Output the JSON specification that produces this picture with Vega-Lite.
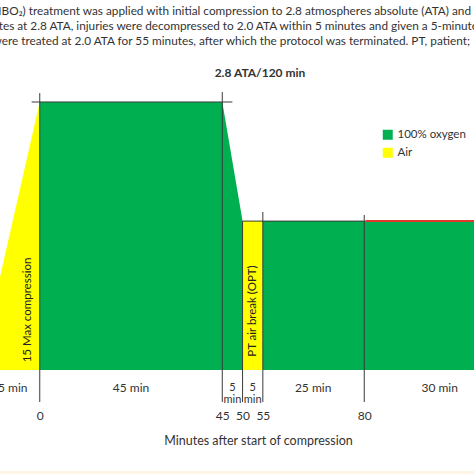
{
  "$schema": "https://vega.github.io/schema/vega-lite/v6.json",
  "autosize": "none",
  "padding": 0,
  "width": 474,
  "height": 474,
  "background": "white",
  "config": {
    "view": {"stroke": null},
    "font": "Lato",
    "text": {"font": "Lato", "color": "#333333"}
  },
  "datasets": {
    "profile": [
      {"seg": "compress", "gas": "Air", "min": -15, "ata": 1.0},
      {"seg": "compress", "gas": "Air", "min": 0, "ata": 2.8},
      {"seg": "o2a", "gas": "100% oxygen", "min": 0, "ata": 2.8},
      {"seg": "o2a", "gas": "100% oxygen", "min": 45, "ata": 2.8},
      {"seg": "o2a", "gas": "100% oxygen", "min": 50, "ata": 2.0},
      {"seg": "airbreak", "gas": "Air", "min": 50, "ata": 2.0},
      {"seg": "airbreak", "gas": "Air", "min": 55, "ata": 2.0},
      {"seg": "o2b", "gas": "100% oxygen", "min": 55, "ata": 2.0},
      {"seg": "o2b", "gas": "100% oxygen", "min": 110, "ata": 2.0}
    ],
    "dividers": [
      {"min": 0, "min2": 0, "ata": 2.86, "ata2": 0.785},
      {"min": 45, "min2": 45, "ata": 2.867, "ata2": 0.785},
      {"min": 50, "min2": 50, "ata": 2.0, "ata2": 0.785},
      {"min": 55, "min2": 55, "ata": 2.061, "ata2": 0.785},
      {"min": 80, "min2": 80, "ata": 2.041, "ata2": 0.785},
      {"min": -2, "min2": 47.5, "ata": 2.8, "ata2": 2.8},
      {"min": 50, "min2": 80, "ata": 2.0, "ata2": 2.0}
    ],
    "terminal": [
      {"min": 80.3, "min2": 110, "ata": 2.0}
    ],
    "durations": [
      {"min": -7.5, "label": "15 min"},
      {"min": 22.5, "label": "45 min"},
      {"min": 67.4, "label": "25 min"},
      {"min": 98.6, "label": "30 min"}
    ],
    "short": [
      {"min": 47.5, "label": "5\nmin"},
      {"min": 52.5, "label": "5\nmin"}
    ],
    "phases": [
      {"min": -2.9, "ata": 1.403, "label": "15 Max compression"},
      {"min": 52.5, "ata": 1.396, "label": "PT air break (OPT)"}
    ],
    "headline": [
      {"min": 54.3, "ata": 2.995, "label": "2.8 ATA/120 min"}
    ],
    "caption": [
      {"min": 106.32, "ata": 3.411, "label": "(HBO₂) treatment was applied with initial compression to 2.8 atmospheres absolute (ATA) and"},
      {"min": 108.05, "ata": 3.31, "label": "minutes at 2.8 ATA, injuries were decompressed to 2.0 ATA within 5 minutes and given a 5-minute"},
      {"min": 106.07, "ata": 3.21, "label": "were treated at 2.0 ATA for 55 minutes, after which the protocol was terminated. PT, patient;"}
    ],
    "strip": [
      {"min": -20, "min2": 120, "ata": 0.322, "ata2": 0.25}
    ]
  },
  "layer": [
    {
      "data": {"name": "profile"},
      "mark": {"type": "area", "interpolate": "linear"},
      "encoding": {
        "x": {
          "field": "min",
          "type": "quantitative",
          "scale": {"domain": [-9.8, 107.06], "nice": false, "zero": false},
          "axis": {
            "values": [0, 45, 50, 55, 80],
            "offset": -72,
            "domain": false,
            "ticks": false,
            "grid": false,
            "labelOverlap": false,
            "labelFlush": false,
            "labelPadding": 8,
            "labelFont": "Lato",
            "labelFontSize": 12,
            "labelColor": "#333333",
            "title": "Minutes after start of compression",
            "titleFont": "Lato",
            "titleFontSize": 12.5,
            "titleFontWeight": "normal",
            "titleColor": "#333333",
            "titleX": 258,
            "titleY": 38,
            "titleAlign": "center",
            "titleBaseline": "middle"
          }
        },
        "y": {
          "field": "ata",
          "type": "quantitative",
          "stack": null,
          "scale": {"domain": [0.3015, 3.485], "nice": false, "zero": false},
          "axis": null
        },
        "y2": {"datum": 1.0},
        "detail": {"field": "seg"},
        "color": {
          "field": "gas",
          "type": "nominal",
          "scale": {"domain": ["100% oxygen", "Air"], "range": ["#00b050", "#ffff00"]},
          "legend": {
            "title": null,
            "orient": "none",
            "legendX": 382,
            "legendY": 129,
            "symbolType": "square",
            "symbolSize": 100,
            "symbolStrokeWidth": 0,
            "labelFont": "Lato",
            "labelFontSize": 11.5,
            "labelColor": "#333333",
            "labelOffset": 4,
            "rowPadding": 5
          }
        }
      }
    },
    {
      "data": {"name": "dividers"},
      "mark": {"type": "rule", "color": "#3a3a3a", "strokeWidth": 1},
      "encoding": {
        "x": {"field": "min", "type": "quantitative"},
        "x2": {"field": "min2"},
        "y": {"field": "ata", "type": "quantitative", "axis": null},
        "y2": {"field": "ata2"}
      }
    },
    {
      "data": {"name": "terminal"},
      "mark": {"type": "rule", "color": "#e03a2e", "strokeWidth": 2},
      "encoding": {
        "x": {"field": "min", "type": "quantitative"},
        "x2": {"field": "min2"},
        "y": {"field": "ata", "type": "quantitative", "axis": null}
      }
    },
    {
      "data": {"name": "durations"},
      "mark": {"type": "text", "fontSize": 12, "baseline": "middle"},
      "encoding": {
        "x": {"field": "min", "type": "quantitative"},
        "y": {"datum": 0.879, "type": "quantitative", "axis": null},
        "text": {"field": "label"}
      }
    },
    {
      "data": {"name": "short"},
      "mark": {"type": "text", "fontSize": 11, "baseline": "middle", "lineBreak": "\n", "lineHeight": 12},
      "encoding": {
        "x": {"field": "min", "type": "quantitative"},
        "y": {"datum": 0.879, "type": "quantitative", "axis": null},
        "text": {"field": "label"}
      }
    },
    {
      "data": {"name": "phases"},
      "mark": {"type": "text", "fontSize": 11.5, "angle": 270, "align": "center", "baseline": "middle", "color": "#222222"},
      "encoding": {
        "x": {"field": "min", "type": "quantitative"},
        "y": {"field": "ata", "type": "quantitative", "axis": null},
        "text": {"field": "label"}
      }
    },
    {
      "data": {"name": "caption"},
      "mark": {"type": "text", "fontSize": 11.8, "align": "right", "baseline": "middle"},
      "encoding": {
        "x": {"field": "min", "type": "quantitative"},
        "y": {"field": "ata", "type": "quantitative", "axis": null},
        "text": {"field": "label"}
      }
    },
    {
      "data": {"name": "headline"},
      "mark": {"type": "text", "fontSize": 12, "fontWeight": "bold", "align": "center", "baseline": "middle"},
      "encoding": {
        "x": {"field": "min", "type": "quantitative"},
        "y": {"field": "ata", "type": "quantitative", "axis": null},
        "text": {"field": "label"}
      }
    },
    {
      "data": {"name": "strip"},
      "mark": {"type": "rect", "color": "#fdf5e6"},
      "encoding": {
        "x": {"field": "min", "type": "quantitative"},
        "x2": {"field": "min2"},
        "y": {"field": "ata", "type": "quantitative", "axis": null},
        "y2": {"field": "ata2"}
      }
    }
  ]
}
